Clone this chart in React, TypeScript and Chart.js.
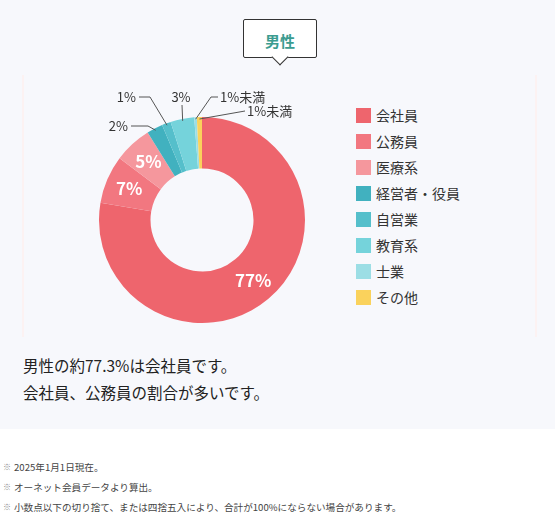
import React, { useEffect, useRef } from "react";
import { Chart, registerables } from "chart.js";

Chart.register(...registerables);

// ---- data ----
const categories = ["会社員", "公務員", "医療系", "経営者・役員", "自営業", "教育系", "士業", "その他"];
const shares = [77.3, 7.5, 5.9, 2.5, 1.4, 3.7, 0.4, 0.8];
const sliceLabels = ["77%", "7%", "5%", "2%", "1%", "3%", "1%未満", "1%未満"];
const colors = ["#EE656D", "#F27780", "#F5979D", "#41B1BF", "#55BFCB", "#75D3DB", "#9CDEE5", "#FAD25C"];
const title = "男性";
const summaryLines = ["男性の約77.3%は会社員です。", "会社員、公務員の割合が多いです。"];
const notes = [
  "2025年1月1日現在。",
  "オーネット会員データより算出。",
  "小数点以下の切り捨て、または四捨五入により、合計が100%にならない場合があります。",
];

const FONT = '"Noto Sans CJK JP", "Noto Sans", sans-serif';

// which slices get labels inside the ring
const insideIdx = [0, 1, 2];
// leader-line layout for outside labels (offsets from donut centre, px)
const outsideLayout: Record<number, { text: [number, number]; align: CanvasTextAlign; path: [number, number][] }> = {
  3: { text: [-74, -94], align: "right", path: [[-71, -94], [-54, -94]] },
  4: { text: [-66, -123], align: "right", path: [[-63, -123], [-52, -123]] },
  5: { text: [-21, -123], align: "center", path: [[-20, -115]] },
  6: { text: [18, -123], align: "left", path: [[16, -123], [9, -123]] },
  7: { text: [45, -109], align: "left", path: [[43, -109]] },
};

const labelPlugin = {
  id: "sliceLabels",
  afterDatasetsDraw(chart: any) {
    const ctx: CanvasRenderingContext2D = chart.ctx;
    const meta = chart.getDatasetMeta(0);
    ctx.save();
    meta.data.forEach((arc: any, i: number) => {
      const { x, y, startAngle, endAngle, innerRadius, outerRadius } = arc.getProps(
        ["x", "y", "startAngle", "endAngle", "innerRadius", "outerRadius"],
        true
      );
      const mid = (startAngle + endAngle) / 2;
      if (insideIdx.includes(i)) {
        const r = (innerRadius + outerRadius) / 2 + 2;
        ctx.font = `bold 17px ${FONT}`;
        ctx.fillStyle = "#ffffff";
        ctx.textAlign = "center";
        ctx.textBaseline = "middle";
        ctx.fillText(sliceLabels[i], x + Math.cos(mid) * r, y + Math.sin(mid) * r);
      } else if (outsideLayout[i]) {
        const L = outsideLayout[i];
        const ar = outerRadius - 2;
        const ax = x + Math.cos(mid) * ar;
        const ay = y + Math.sin(mid) * ar;
        ctx.strokeStyle = "#555";
        ctx.lineWidth = 1;
        ctx.beginPath();
        L.path.forEach((p, k) => {
          if (k === 0) ctx.moveTo(x + p[0], y + p[1]);
          else ctx.lineTo(x + p[0], y + p[1]);
        });
        ctx.lineTo(ax, ay);
        ctx.stroke();
        ctx.font = `13px ${FONT}`;
        ctx.fillStyle = "#333";
        ctx.textAlign = L.align;
        ctx.textBaseline = "middle";
        ctx.fillText(sliceLabels[i], x + L.text[0], y + L.text[1]);
      }
    });
    ctx.restore();
  },
};

function DonutChart() {
  const ref = useRef<HTMLCanvasElement | null>(null);
  useEffect(() => {
    if (!ref.current) return;
    const chart = new Chart(ref.current, {
      type: "doughnut",
      data: {
        labels: categories,
        datasets: [
          {
            data: shares,
            backgroundColor: colors,
            borderWidth: 0,
          },
        ],
      },
      options: {
        animation: false,
        responsive: true,
        maintainAspectRatio: false,
        cutout: "50%",
        layout: { padding: { left: 76, right: 38, top: 42, bottom: 14 } },
        plugins: {
          legend: { display: false },
          tooltip: { enabled: false },
        },
        events: [],
      },
      plugins: [labelPlugin],
    });
    return () => chart.destroy();
  }, []);
  return (
    <div style={{ position: "absolute", left: 23, top: 75, width: 320, height: 262 }}>
      <canvas ref={ref} />
    </div>
  );
}

export default function App() {
  return (
    <div
      style={{
        position: "absolute",
        left: 0,
        top: 0,
        width: 555,
        height: 516,
        background: "#ffffff",
        fontFamily: FONT,
        overflow: "hidden",
      }}
    >
      <div style={{ position: "absolute", left: 0, top: 0, width: 555, height: 429, background: "#f7f8fc" }} />
      {/* panel */}
      <div
        style={{
          position: "absolute",
          left: 22,
          top: 75,
          width: 511,
          height: 262,
          borderLeft: "2px solid #fcf2f2",
          borderRight: "2px solid #fcf2f2",
        }}
      />
      {/* callout title */}
      <div
        style={{
          position: "absolute",
          left: 243,
          top: 19,
          width: 72,
          height: 37,
          border: "1px solid #333",
          borderRadius: 2,
          background: "#fff",
          boxSizing: "content-box",
        }}
      >
        <div
          style={{
            position: "absolute",
            left: 30,
            top: 31,
            width: 11,
            height: 11,
            background: "#fff",
            borderRight: "1px solid #333",
            borderBottom: "1px solid #333",
            transform: "rotate(45deg)",
          }}
        />
        <div
          style={{
            position: "relative",
            lineHeight: "37px",
            textAlign: "center",
            fontWeight: "bold",
            fontSize: 15,
            color: "#3b9c90",
            paddingTop: 2,
          }}
        >
          {title}
        </div>
      </div>
      <DonutChart />
      {/* legend */}
      <div style={{ position: "absolute", left: 356, top: 108 }}>
        {categories.map((c, i) => (
          <div key={c} style={{ display: "flex", alignItems: "center", height: 15, marginBottom: 11 }}>
            <div style={{ width: 15, height: 15, background: colors[i] }} />
            <div style={{ marginLeft: 5, fontSize: 14, color: "#333", lineHeight: "15px" }}>{c}</div>
          </div>
        ))}
      </div>
      {/* summary */}
      <div style={{ position: "absolute", left: 23, top: 352, fontSize: 15.5, lineHeight: "27px", color: "#222" }}>
        {summaryLines.map((l) => (
          <div key={l}>{l}</div>
        ))}
      </div>
      {/* notes */}
      <div style={{ position: "absolute", left: 3, top: 457 }}>
        {notes.map((n) => (
          <div key={n} style={{ display: "flex", height: 20, lineHeight: "20px", fontSize: 9.6, color: "#444" }}>
            <span style={{ width: 11, color: "#888", fontSize: 8 }}>※</span>
            <span>{n}</span>
          </div>
        ))}
      </div>
    </div>
  );
}
